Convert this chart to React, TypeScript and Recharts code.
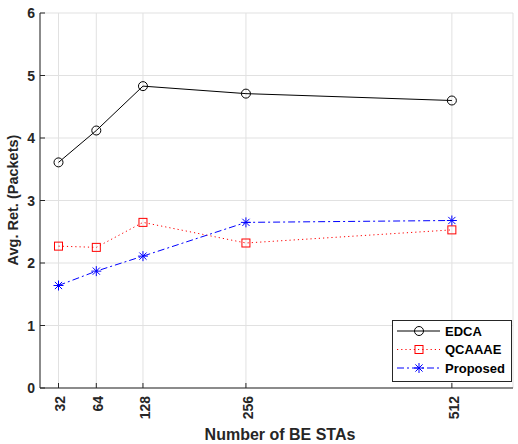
import React from 'react';
import { LineChart, Line, XAxis, YAxis, CartesianGrid } from 'recharts';

// Number of best-effort stations (tick labels) and where each sits on the x axis
const staLabels = ['32', '64', '128', '256', '512'];
const staPositions = [23, 70, 128, 256, 512];

// Average retransmissions (packets) per scheme
const edca = [3.61, 4.12, 4.83, 4.71, 4.6];
const qcaaae = [2.27, 2.25, 2.65, 2.32, 2.53];
const proposed = [1.64, 1.87, 2.11, 2.65, 2.68];

const yTicks = [0, 1, 2, 3, 4, 5, 6];

const data = staPositions.map((pos, i) => ({
  pos,
  label: staLabels[i],
  edca: edca[i],
  qcaaae: qcaaae[i],
  proposed: proposed[i],
}));

const W = 518;
const H = 444;
const AXIS = '#262626';
const GRID = '#e1e1e1';
const FONT = '"Liberation Sans", Arial, Helvetica, sans-serif';
const TICK = 5;

const labelFor = (v: number) => {
  const i = staPositions.indexOf(v);
  return i >= 0 ? staLabels[i] : String(v);
};

const BottomTick = (props: any) => {
  const { x, y, payload } = props;
  return (
    <g>
      <line x1={x} y1={y} x2={x} y2={y - TICK} stroke={AXIS} strokeWidth={1} />
      <text
        x={0}
        y={0}
        transform={`translate(${x + 2},${y + 8}) rotate(-90)`}
        textAnchor="end"
        dy="0.35em"
        fontFamily={FONT}
        fontWeight="bold"
        fontSize={14}
        fill={AXIS}
      >
        {labelFor(payload.value)}
      </text>
    </g>
  );
};

const TopTick = (props: any) => {
  const { x, y } = props;
  return <line x1={x} y1={y} x2={x} y2={y + TICK} stroke={AXIS} strokeWidth={1} />;
};

const LeftTick = (props: any) => {
  const { x, y, payload } = props;
  return (
    <g>
      <line x1={x} y1={y} x2={x + TICK} y2={y} stroke={AXIS} strokeWidth={1} />
      <text
        x={x - 5}
        y={y}
        dy="0.36em"
        textAnchor="end"
        fontFamily={FONT}
        fontWeight="bold"
        fontSize={14}
        fill={AXIS}
      >
        {payload.value}
      </text>
    </g>
  );
};

const RightTick = (props: any) => {
  const { x, y } = props;
  return <line x1={x} y1={y} x2={x - TICK} y2={y} stroke={AXIS} strokeWidth={1} />;
};

const CircleMark = ({ cx, cy }: { cx: number; cy: number }) => (
  <circle cx={cx} cy={cy} r={4.5} fill="none" stroke="#000" strokeWidth={1} />
);

const SquareMark = ({ cx, cy }: { cx: number; cy: number }) => (
  <rect x={cx - 4} y={cy - 4} width={8} height={8} fill="none" stroke="#ff0000" strokeWidth={1} />
);

const StarMark = ({ cx, cy }: { cx: number; cy: number }) => {
  const r = 5;
  const d = 3.6;
  return (
    <g stroke="#0000ff" strokeWidth={1}>
      <line x1={cx - r} y1={cy} x2={cx + r} y2={cy} />
      <line x1={cx} y1={cy - r} x2={cx} y2={cy + r} />
      <line x1={cx - d} y1={cy - d} x2={cx + d} y2={cy + d} />
      <line x1={cx - d} y1={cy + d} x2={cx + d} y2={cy - d} />
    </g>
  );
};

const series = [
  { key: 'edca', name: 'EDCA', color: '#000000', dash: undefined as string | undefined, Mark: CircleMark },
  { key: 'qcaaae', name: 'QCAAAE', color: '#ff0000', dash: '1.2 3', Mark: SquareMark },
  { key: 'proposed', name: 'Proposed', color: '#0000ff', dash: '7 3 2 3', Mark: StarMark },
];

const LegendBox = () => {
  const left = 392;
  const top = 320;
  const rowH = 18.5;
  return (
    <g>
      <rect x={left + 0.5} y={top + 0.5} width={119} height={61} fill="#fff" stroke={AXIS} strokeWidth={1} />
      {series.map((s, i) => {
        const cy = top + 11 + i * rowH;
        const M = s.Mark;
        return (
          <g key={s.key}>
            <line x1={left + 5} y1={cy} x2={left + 48} y2={cy} stroke={s.color} strokeWidth={1} strokeDasharray={s.dash} />
            <M cx={left + 27} cy={cy} />
            <text
              x={left + 53}
              y={cy}
              dy="0.36em"
              fontFamily={FONT}
              fontWeight="bold"
              fontSize={13}
              fill="#000"
            >
              {s.name}
            </text>
          </g>
        );
      })}
    </g>
  );
};

export default function App() {
  return (
    <div style={{ position: 'absolute', left: 0, top: 0, width: W, height: H, background: '#fff' }}>
      <LineChart width={W} height={H} data={data} margin={{ top: 13, right: 5, bottom: 0, left: 0 }}>
        <CartesianGrid xAxisId="b" yAxisId="l" stroke={GRID} strokeWidth={1} />
        <XAxis
          xAxisId="b"
          dataKey="pos"
          type="number"
          domain={[0, 588]}
          ticks={staPositions}
          interval={0}
          height={56}
          tickSize={0}
          tickMargin={0}
          tickLine={false}
          tick={<BottomTick />}
          axisLine={{ stroke: AXIS, strokeWidth: 1 }}
          allowDataOverflow
        />
        <XAxis
          xAxisId="t"
          orientation="top"
          dataKey="pos"
          type="number"
          domain={[0, 588]}
          ticks={staPositions}
          interval={0}
          height={0}
          tickSize={0}
          tickMargin={0}
          tickLine={false}
          tick={<TopTick />}
          axisLine={{ stroke: AXIS, strokeWidth: 1 }}
          allowDataOverflow
        />
        <YAxis
          yAxisId="l"
          type="number"
          domain={[0, 6]}
          ticks={yTicks}
          interval={0}
          width={40}
          tickSize={0}
          tickMargin={0}
          tickLine={false}
          tick={<LeftTick />}
          axisLine={{ stroke: AXIS, strokeWidth: 1 }}
          allowDataOverflow
        />
        <YAxis
          yAxisId="r"
          orientation="right"
          type="number"
          domain={[0, 6]}
          ticks={yTicks}
          interval={0}
          width={0}
          tickSize={0}
          tickMargin={0}
          tickLine={false}
          tick={<RightTick />}
          axisLine={{ stroke: AXIS, strokeWidth: 1 }}
          allowDataOverflow
        />
        {series.map((s) => {
          const M = s.Mark;
          return (
            <Line
              key={s.key}
              xAxisId="b"
              yAxisId="l"
              type="linear"
              dataKey={s.key}
              name={s.name}
              stroke={s.color}
              strokeWidth={1}
              strokeDasharray={s.dash}
              isAnimationActive={false}
              dot={(p: any) => <M key={`${s.key}-${p.index}`} cx={p.cx} cy={p.cy} />}
              activeDot={false}
            />
          );
        })}
        <text
          x={280}
          y={434}
          dy="0.36em"
          textAnchor="middle"
          fontFamily={FONT}
          fontWeight="bold"
          fontSize={16}
          fill={AXIS}
        >
          Number of BE STAs
        </text>
        <text
          transform="translate(13,200) rotate(-90)"
          textAnchor="middle"
          dy="0.36em"
          fontFamily={FONT}
          fontWeight="bold"
          fontSize={14.5}
          fill={AXIS}
        >
          Avg. Ret. (Packets)
        </text>
        <LegendBox />
      </LineChart>
    </div>
  );
}
